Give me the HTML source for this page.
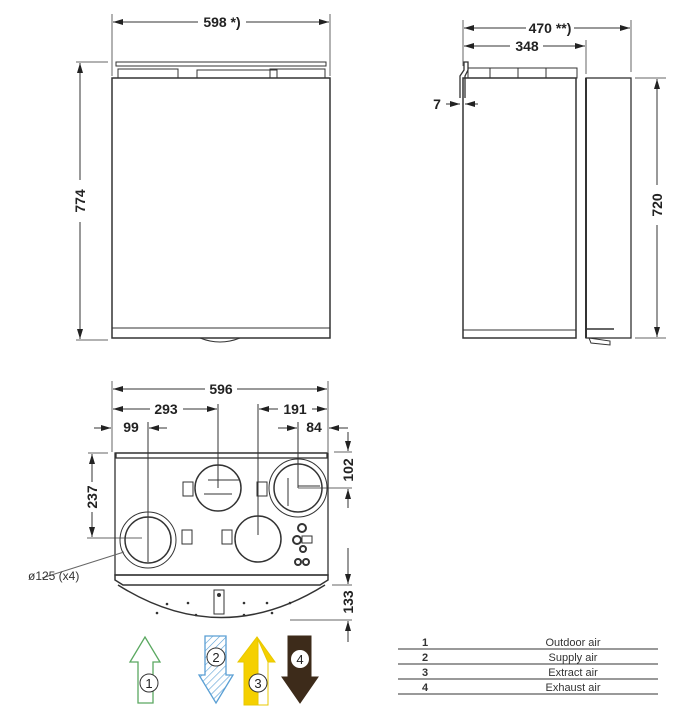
<!DOCTYPE html>
<html><head><meta charset="utf-8"><style>
body{margin:0;background:#fff}
svg{display:block;font-family:"Liberation Sans",Arial,sans-serif}
.b{font-weight:bold;font-size:14px;fill:#222}
</style></head><body>
<svg width="694" height="726" viewBox="0 0 694 726" xmlns="http://www.w3.org/2000/svg">
<defs>
<marker id="a" viewBox="0 0 10 6" refX="10" refY="3" markerWidth="10" markerHeight="6" orient="auto-start-reverse" markerUnits="userSpaceOnUse"><path d="M0,0L10,3L0,6z" fill="#222"/></marker>
<pattern id="h" width="5" height="5" patternUnits="userSpaceOnUse" patternTransform="rotate(45)"><line x1="0" y1="0" x2="0" y2="5" stroke="#5a9fd4" stroke-width="1.2"/></pattern>
</defs>
<g stroke="#333" fill="none" stroke-width="1">
<!-- FRONT VIEW -->
<line x1="112" y1="14" x2="112" y2="76" stroke="#666"/><line x1="330" y1="14" x2="330" y2="76" stroke="#666"/>
<line x1="113" y1="22" x2="198" y2="22" marker-start="url(#a)"/><line x1="246" y1="22" x2="329" y2="22" marker-end="url(#a)"/>
<line x1="76" y1="62" x2="108" y2="62" stroke="#666"/><line x1="76" y1="340" x2="108" y2="340" stroke="#666"/>
<line x1="80" y1="63" x2="80" y2="180" marker-start="url(#a)"/><line x1="80" y1="222" x2="80" y2="339" marker-end="url(#a)"/>
<rect x="116" y="62" width="210" height="4"/>
<rect x="118" y="69" width="60" height="9"/><rect x="197" y="70" width="80" height="8"/><rect x="270" y="69" width="55" height="9"/>
<rect x="112" y="78" width="218" height="260" stroke-width="1.5"/>
<line x1="112" y1="328" x2="330" y2="328"/>
<path d="M200,338 Q220,346 240,338"/>
<!-- SIDE VIEW -->
<line x1="463" y1="20" x2="463" y2="66" stroke="#666"/><line x1="631" y1="20" x2="631" y2="72" stroke="#666"/><line x1="586" y1="40" x2="586" y2="74" stroke="#666"/>
<line x1="464" y1="28" x2="526" y2="28" marker-start="url(#a)"/><line x1="574" y1="28" x2="630" y2="28" marker-end="url(#a)"/>
<line x1="464" y1="46" x2="510" y2="46" marker-start="url(#a)"/><line x1="543" y1="46" x2="585" y2="46" marker-end="url(#a)"/>
<rect x="468" y="68" width="109" height="10"/>
<line x1="490" y1="68" x2="490" y2="78"/><line x1="518" y1="68" x2="518" y2="78"/><line x1="546" y1="68" x2="546" y2="78"/>
<path d="M465,98 L465,76 L468,70 L468,62 L464,62 L464,70 L460,76 L460,98" stroke-width="1.3"/>
<line x1="446" y1="104" x2="460" y2="104" marker-end="url(#a)"/><line x1="478" y1="104" x2="465" y2="104" marker-end="url(#a)"/>
<rect x="463" y="78" width="113" height="260" stroke-width="1.5"/>
<line x1="463" y1="330" x2="576" y2="330"/>
<line x1="586" y1="78" x2="586" y2="338" stroke-width="2"/>
<rect x="586" y="78" width="45" height="260" stroke-width="1.3"/>
<line x1="587" y1="329" x2="614" y2="329" stroke-width="1.5"/>
<path d="M589,338 L610,341 L610,345 L591,343 z"/>
<line x1="635" y1="78" x2="666" y2="78" stroke="#666"/><line x1="635" y1="338" x2="666" y2="338" stroke="#666"/>
<line x1="657" y1="79" x2="657" y2="185" marker-start="url(#a)"/><line x1="657" y1="225" x2="657" y2="337" marker-end="url(#a)"/>
<!-- BOTTOM VIEW -->
<line x1="112" y1="381" x2="112" y2="452" stroke="#666"/><line x1="328" y1="381" x2="328" y2="452" stroke="#666"/>
<line x1="113" y1="389" x2="205" y2="389" marker-start="url(#a)"/><line x1="237" y1="389" x2="327" y2="389" marker-end="url(#a)"/>
<line x1="113" y1="409" x2="150" y2="409" marker-start="url(#a)"/><line x1="183" y1="409" x2="217" y2="409" marker-end="url(#a)"/>
<line x1="218" y1="404" x2="218" y2="488"/>
<line x1="259" y1="409" x2="278" y2="409" marker-start="url(#a)"/><line x1="312" y1="409" x2="327" y2="409" marker-end="url(#a)"/>
<line x1="258" y1="404" x2="258" y2="535"/>
<line x1="94" y1="428" x2="111" y2="428" marker-end="url(#a)"/><line x1="167" y1="428" x2="149" y2="428" marker-end="url(#a)"/>
<line x1="148" y1="422" x2="148" y2="562"/>
<line x1="278" y1="428" x2="297" y2="428" marker-end="url(#a)"/><line x1="348" y1="428" x2="329" y2="428" marker-end="url(#a)"/>
<line x1="298" y1="422" x2="298" y2="488"/>
<line x1="88" y1="453" x2="108" y2="453" stroke="#666"/><line x1="87" y1="538" x2="142" y2="538" stroke="#666"/>
<line x1="92" y1="454" x2="92" y2="482" marker-start="url(#a)"/><line x1="92" y1="512" x2="92" y2="537" marker-end="url(#a)"/>
<line x1="334" y1="452" x2="352" y2="452" stroke="#666"/><line x1="298" y1="488" x2="352" y2="488" stroke="#666"/>
<line x1="348" y1="432" x2="348" y2="451" marker-end="url(#a)"/><line x1="348" y1="508" x2="348" y2="489" marker-end="url(#a)"/>
<line x1="332" y1="585" x2="352" y2="585" stroke="#666"/><line x1="290" y1="620" x2="352" y2="620" stroke="#666"/>
<line x1="348" y1="548" x2="348" y2="584" marker-end="url(#a)"/><line x1="348" y1="642" x2="348" y2="621" marker-end="url(#a)"/>
<rect x="116" y="453" width="211" height="5" stroke-width="1.3"/>
<rect x="115" y="453" width="213" height="122" stroke-width="1.3"/>
<path d="M115,575 L328,575 L328,580 L320,585 L123,585 L115,580 z" stroke-width="1.5"/>
<path d="M118,585 Q221,650 325,585" stroke-width="1.5"/>
<rect x="214" y="590" width="10" height="24"/>
<circle cx="148" cy="540" r="28"/><circle cx="148" cy="540" r="23" stroke-width="1.5"/>
<circle cx="218" cy="488" r="23" stroke-width="1.5"/>
<circle cx="298" cy="488" r="29"/><circle cx="298" cy="488" r="24" stroke-width="1.5"/>
<circle cx="258" cy="539" r="23" stroke-width="1.5"/>
<line x1="208" y1="480" x2="240" y2="480"/><line x1="204" y1="494" x2="232" y2="494"/>
<line x1="288" y1="478" x2="288" y2="506"/><line x1="298" y1="486" x2="320" y2="486"/>
<rect x="183" y="482" width="10" height="14"/><rect x="257" y="482" width="10" height="14"/>
<rect x="182" y="530" width="10" height="14"/><rect x="222" y="530" width="10" height="14"/>
<circle cx="302" cy="528" r="4" stroke-width="2"/><circle cx="297" cy="540" r="4" stroke-width="2"/><circle cx="303" cy="549" r="3" stroke-width="2"/>
<circle cx="298" cy="562" r="3" stroke-width="2"/><circle cx="306" cy="562" r="3" stroke-width="2"/>
<rect x="302" y="536" width="10" height="7"/>
<line x1="42" y1="578" x2="124" y2="552" stroke="#666"/>
<!-- ARROWS -->
<path d="M138,703 L138,662 L130,662 L145,637 L160,662 L153,662 L153,703 z" stroke="#5aa860" stroke-width="1.3"/>
<path d="M205,636 L205,675 L199,675 L216,703 L233,675 L226,675 L226,636 z" fill="url(#h)" stroke="#5a9fd4" stroke-width="1.3"/>
<path d="M244,705 L244,662 L238,662 L257,637 L275,662 L268,662 L268,705 z" fill="#f5d000" stroke="#e8c800" stroke-width="1"/>
<path d="M258,705 L258,642 L257,637 L268,662 L268,705 z" fill="#fff" stroke="#e8c800"/>
<path d="M288,636 L288,677 L282,677 L300,703 L318,677 L311,677 L311,636 z" fill="#3d2b1a" stroke="#3d2b1a"/>
<circle cx="149" cy="683" r="9" fill="#fff"/>
<circle cx="216" cy="657" r="9" fill="#fff"/>
<circle cx="258" cy="683" r="9" fill="#fff"/>
<circle cx="300" cy="659" r="9" fill="#fff" stroke="none"/>
<!-- TABLE -->
<g stroke="#333"><line x1="398" y1="649" x2="658" y2="649"/><line x1="398" y1="664" x2="658" y2="664"/><line x1="398" y1="679" x2="658" y2="679"/><line x1="398" y1="694" x2="658" y2="694"/></g>
</g>
<g fill="#333" stroke="none">
<circle cx="167" cy="604" r="1.3"/><circle cx="188" cy="603" r="1.3"/><circle cx="244" cy="603" r="1.3"/><circle cx="267" cy="603" r="1.3"/><circle cx="290" cy="603" r="1.3"/>
<circle cx="157" cy="613" r="1.3"/><circle cx="196" cy="615" r="1.3"/><circle cx="244" cy="615" r="1.3"/><circle cx="272" cy="613" r="1.3"/>
<circle cx="219" cy="595" r="2"/>
</g>
<g class="b" text-anchor="middle">
<text x="222" y="27">598 *)</text>
<text x="550" y="33">470 **)</text>
<text x="527" y="51">348</text>
<text x="437" y="109">7</text>
<text transform="translate(85,201) rotate(-90)">774</text>
<text transform="translate(662,205) rotate(-90)">720</text>
<text x="221" y="394">596</text>
<text x="166" y="414">293</text>
<text x="295" y="414">191</text>
<text x="131" y="432">99</text>
<text x="314" y="432">84</text>
<text transform="translate(97,497) rotate(-90)">237</text>
<text transform="translate(353,470) rotate(-90)">102</text>
<text transform="translate(353,602) rotate(-90)">133</text>
</g>
<text x="28" y="580" font-size="12" fill="#333">ø125 (x4)</text>
<g font-size="13" text-anchor="middle" fill="#222">
<text x="149" y="688">1</text><text x="216" y="662">2</text><text x="258" y="688">3</text><text x="300" y="664">4</text>
</g>
<g font-size="11" fill="#333">
<g font-weight="bold" text-anchor="middle"><text x="425" y="646">1</text><text x="425" y="661">2</text><text x="425" y="676">3</text><text x="425" y="691">4</text></g>
<g text-anchor="middle"><text x="573" y="646">Outdoor air</text><text x="573" y="661">Supply air</text><text x="573" y="676">Extract air</text><text x="573" y="691">Exhaust air</text></g>
</g>
</svg>
</body></html>
